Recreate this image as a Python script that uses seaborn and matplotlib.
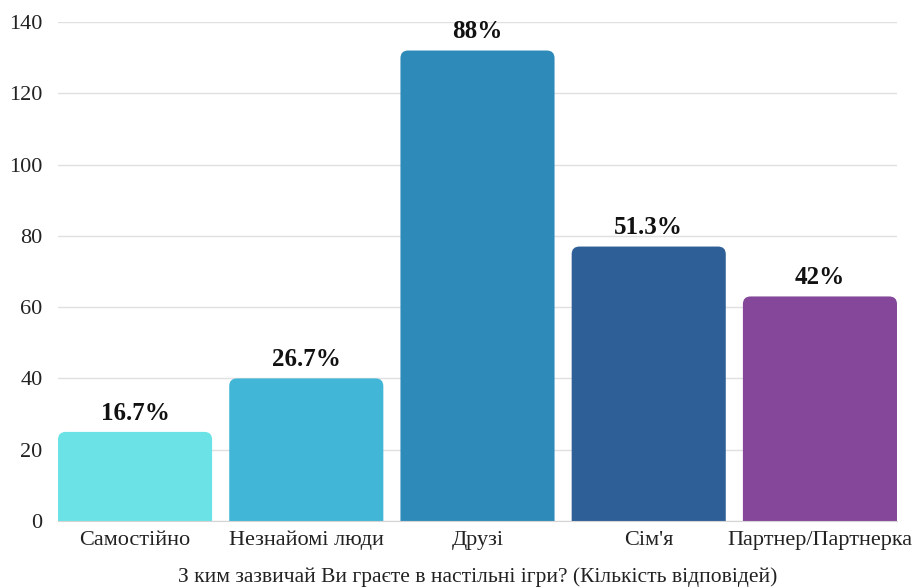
import pandas as pd
import matplotlib.pyplot as plt
import seaborn as sns
from matplotlib.patches import FancyBboxPatch

# Data
categories = ['Самостійно', 'Незнайомі люди', 'Друзі', "Сім'я", 'Партнер/Партнерка']
counts = [25, 40, 132, 77, 63]
pct_labels = ['16.7%', '26.7%', '88%', '51.3%', '42%']
colors = ['#6BE3E6', '#42B6D6', '#2E8BB9', '#2E5F96', '#854799']

df = pd.DataFrame({'who': categories, 'count': counts})

sns.set_style('white')
plt.rcParams['font.family'] = ['Liberation Serif', 'DejaVu Serif']

fig = plt.figure(figsize=(9.21, 5.88), dpi=100)
ax = fig.add_axes([58 / 921, 67 / 588, 839 / 921, 499 / 588])

sns.barplot(data=df, x='who', y='count', hue='who', palette=colors,
            saturation=1, width=0.9, legend=False, ax=ax, zorder=2)

ax.set_xlim(-0.45, 4.45)
ax.set_ylim(0, 140)
ax.set_yticks(range(0, 141, 20))

# swap the square bars for ones with rounded top corners
aspect = (140 / 499) / (4.9 / 839)
for patch in list(ax.patches):
    x, w, h = patch.get_x(), patch.get_width(), patch.get_height()
    fc = patch.get_facecolor()
    patch.remove()
    ax.add_patch(FancyBboxPatch((x, -5), w, h + 5,
                                boxstyle='round,pad=0,rounding_size=0.045',
                                mutation_aspect=aspect, fc=fc, ec='none',
                                zorder=2, clip_on=True))

for i, (v, lab) in enumerate(zip(counts, pct_labels)):
    ax.text(i, v + 2, lab, ha='center', va='bottom', fontsize=18,
            fontweight='bold', color='#111111')

ax.grid(axis='y', color='#e0e0e0', linewidth=1, zorder=0)
ax.set_axisbelow(True)
for s in ['top', 'right', 'left']:
    ax.spines[s].set_visible(False)
ax.spines['bottom'].set_color('#d4d4d4')
ax.tick_params(axis='both', length=0, labelsize=16, colors='#222222')
ax.tick_params(axis='y', pad=11)
ax.tick_params(axis='x', pad=7)
ax.set_ylabel('')
ax.set_xlabel('З ким зазвичай Ви граєте в настільні ігри? (Кількість відповідей)',
              fontsize=15.5, color='#222222', labelpad=12)

fig.savefig('out.png', dpi=100)
